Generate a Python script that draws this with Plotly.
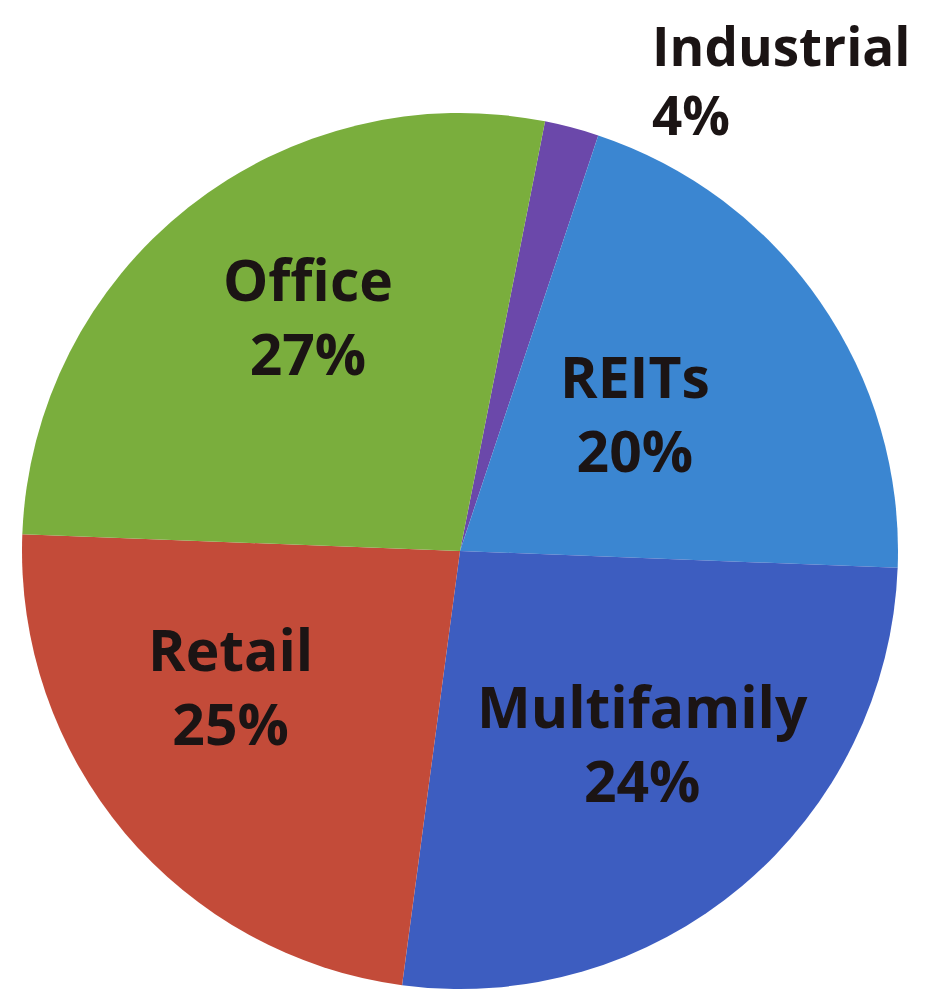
import plotly.graph_objects as go

# Data (slice shares as drawn, printed labels as in the chart)
categories = ["Industrial", "REITs", "Multifamily", "Retail", "Office"]
shares = [2.0, 20.5, 26.5, 23.5, 27.5]
printed_pct = ["4%", "20%", "24%", "25%", "27%"]
colors = ["#6B48AA", "#3B86D1", "#3D5DC0", "#C34B39", "#7AAE3D"]

W, H = 925, 989
OFF = 8  # page body margin

fig = go.Figure(go.Pie(
    labels=categories,
    values=shares,
    sort=False,
    direction="clockwise",
    rotation=11.2,
    marker=dict(colors=colors, line=dict(width=0)),
    textinfo="none",
    hoverinfo="label+percent",
    showlegend=False,
    domain=dict(x=[(18 - OFF) / W, (902 - OFF) / W],
                y=[OFF / H, (H - 105) / H]),
))

# label placement (pixel centres of the text blocks in the page)
label_pos = {
    "Industrial": (650, 80, "left", 53),
    "REITs": (635, 413, "center", 57),
    "Multifamily": (642, 743, "center", 57),
    "Retail": (230, 686, "center", 57),
    "Office": (308, 316, "center", 57),
}

for cat, pct in zip(categories, printed_pct):
    px, py, anchor, fs = label_pos[cat]
    fig.add_annotation(
        x=(px - OFF) / W, y=1 - (py - OFF) / H, xref="paper", yref="paper",
        text=f"<b>{cat}<br>{pct}</b>",
        showarrow=False, xanchor=anchor, yanchor="middle",
        align=anchor, font=dict(family="Open Sans", size=fs, color="#1b1414"),
    )

fig.update_layout(
    width=W, height=H,
    margin=dict(l=0, r=0, t=0, b=0),
    paper_bgcolor="white", plot_bgcolor="white",
)

fig.write_html("out.html")
